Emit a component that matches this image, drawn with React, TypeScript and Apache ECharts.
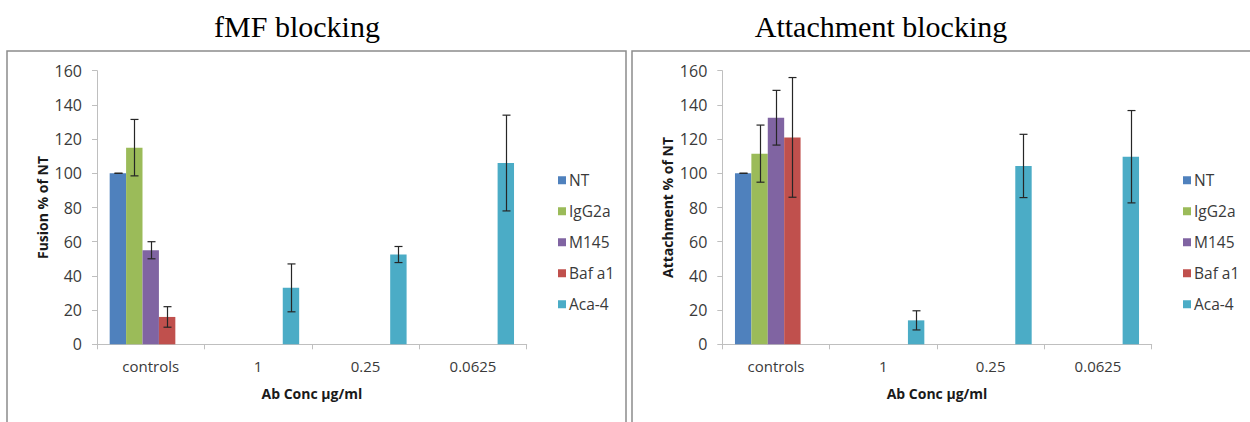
import React, { useEffect, useRef } from "react";
import * as echarts from "echarts";

const categories = ["controls", "1", "0.25", "0.0625"];
const seriesNames = ["NT", "IgG2a", "M145", "Baf a1", "Aca-4"];
const colors = ["#4f81bd", "#9bbb59", "#8064a2", "#c0504d", "#4bacc6"];

// fMF blocking (Fusion % of NT)
const fusionNT = [100, null, null, null];
const fusionIgG2a = [115, null, null, null];
const fusionM145 = [55, null, null, null];
const fusionBaf = [16, null, null, null];
const fusionAca4 = [null, 33, 52.5, 106];
const fusionErrNT = [0, null, null, null];
const fusionErrIgG2a = [16.5, null, null, null];
const fusionErrM145 = [5, null, null, null];
const fusionErrBaf = [6, null, null, null];
const fusionErrAca4 = [null, 14, 4.7, 28];

// Attachment blocking (Attachment % of NT)
const attachNT = [100, null, null, null];
const attachIgG2a = [111.5, null, null, null];
const attachM145 = [132.5, null, null, null];
const attachBaf = [121, null, null, null];
const attachAca4 = [null, 14, 104.3, 109.7];
const attachErrNT = [0, null, null, null];
const attachErrIgG2a = [16.7, null, null, null];
const attachErrM145 = [16, null, null, null];
const attachErrBaf = [35, null, null, null];
const attachErrAca4 = [null, 5.6, 18.5, 27];

const yTicks = { min: 0, max: 160, interval: 20 };

const CAT_GAP = 0.236;
const AXIS_COLOR = "#bfbfbf";
const LABEL_FONT = "'Open Sans', sans-serif";

function buildErrData(values: (number | null)[][], errs: (number | null)[][]) {
  const out: number[][] = [];
  values.forEach((vals, si) => {
    vals.forEach((v, ci) => {
      const e = errs[si][ci];
      if (v !== null && e !== null) out.push([ci, si, v, e]);
    });
  });
  return out;
}

function errRender(params: any, api: any) {
  const cat = api.value(0);
  const idx = api.value(1);
  const v = api.value(2);
  const e = api.value(3);
  const c = api.coord([cat, v]);
  const catW = api.size([1, 0])[0];
  const band = catW * (1 - CAT_GAP);
  const bw = band / seriesNames.length;
  const x = Math.round(c[0] - band / 2 + (idx + 0.5) * bw) + 0.5;
  const top = api.coord([cat, v + e])[1];
  const bot = api.coord([cat, v - e])[1];
  const cap = 4;
  const style = { stroke: "#262626", lineWidth: 1.2 };
  return {
    type: "group",
    children: [
      { type: "line", shape: { x1: x, y1: top, x2: x, y2: bot }, style },
      { type: "line", shape: { x1: x - cap, y1: top, x2: x + cap, y2: top }, style },
      { type: "line", shape: { x1: x - cap, y1: bot, x2: x + cap, y2: bot }, style },
    ],
  };
}

export default function App() {
  const ref = useRef<HTMLDivElement>(null);
  useEffect(() => {
    if (!ref.current) return;
    const chart = echarts.init(ref.current, null, { renderer: "svg" });

    const panels = [
      {
        values: [fusionNT, fusionIgG2a, fusionM145, fusionBaf, fusionAca4],
        errs: [fusionErrNT, fusionErrIgG2a, fusionErrM145, fusionErrBaf, fusionErrAca4],
        yName: "Fusion % of NT",
      },
      {
        values: [attachNT, attachIgG2a, attachM145, attachBaf, attachAca4],
        errs: [attachErrNT, attachErrIgG2a, attachErrM145, attachErrBaf, attachErrAca4],
        yName: "Attachment % of NT",
      },
    ];

    const grids = [
      { left: 97, right: 1250 - 526.7, top: 70.7, bottom: 422 - 344.3 },
      { left: 722.3, right: 1250 - 1151.7, top: 70.7, bottom: 422 - 344.3 },
    ];

    const xAxes = panels.map((p, i) => ({
      type: "category",
      gridIndex: i,
      data: categories,
      axisLine: { lineStyle: { color: AXIS_COLOR, width: 1 } },
      axisTick: { show: true, length: 5, alignWithLabel: false, lineStyle: { color: AXIS_COLOR } },
      axisLabel: { color: "#3a3a3a", fontSize: 15, fontFamily: LABEL_FONT, margin: 14 },
      name: "Ab Conc µg/ml",
      nameLocation: "middle",
      nameGap: 42,
      nameTextStyle: { color: "#1a1a1a", fontSize: 14, fontWeight: "bold", fontFamily: LABEL_FONT },
    }));

    const yAxes = panels.map((p, i) => ({
      type: "value",
      gridIndex: i,
      min: yTicks.min,
      max: yTicks.max,
      interval: yTicks.interval,
      splitLine: { show: false },
      axisLine: { show: true, lineStyle: { color: AXIS_COLOR, width: 1 } },
      axisTick: { show: true, length: 5, lineStyle: { color: AXIS_COLOR } },
      axisLabel: { color: "#3a3a3a", fontSize: 16, fontFamily: LABEL_FONT, margin: 15 },
      name: p.yName,
      nameLocation: "middle",
      nameGap: 48,
      nameRotate: 90,
      nameTextStyle: { color: "#1a1a1a", fontSize: 14, fontWeight: "bold", fontFamily: LABEL_FONT },
    }));

    const series: any[] = [];
    panels.forEach((p, pi) => {
      p.values.forEach((vals, si) => {
        series.push({
          type: "bar",
          name: seriesNames[si],
          xAxisIndex: pi,
          yAxisIndex: pi,
          data: vals.map((v) => (v === null ? "-" : v)),
          barGap: "0%",
          barCategoryGap: CAT_GAP * 100 + "%",
          itemStyle: { color: colors[si] },
        });
      });
      series.push({
        type: "custom",
        name: "err" + pi,
        xAxisIndex: pi,
        yAxisIndex: pi,
        data: buildErrData(p.values, p.errs),
        encode: { x: 0, y: 2 },
        renderItem: errRender,
        z: 10,
        silent: true,
      });
    });

    const legendBase = {
      orient: "vertical",
      top: 167,
      icon: "rect",
      itemWidth: 8,
      itemHeight: 8,
      itemGap: 14.5,
      textStyle: { color: "#3a3a3a", fontSize: 15.5, fontFamily: LABEL_FONT, lineHeight: 16.5, padding: [0, 0, 0, -2] },
      data: seriesNames,
    };

    chart.setOption({
      animation: false,
      backgroundColor: "#ffffff",
      grid: grids,
      xAxis: xAxes,
      yAxis: yAxes,
      legend: [
        { ...legendBase, left: 553 },
        { ...legendBase, left: 1178 },
      ],
      series,
      graphic: [
        {
          type: "rect",
          shape: { x: 7, y: 51, width: 619, height: 420 },
          style: { fill: "none", stroke: "#8c8c8c", lineWidth: 1.5 },
          silent: true,
        },
        {
          type: "rect",
          shape: { x: 632, y: 51, width: 700, height: 420 },
          style: { fill: "none", stroke: "#8c8c8c", lineWidth: 1.5 },
          silent: true,
        },
        {
          type: "text",
          x: 297,
          y: 26,
          style: {
            text: "fMF blocking",
            fontFamily: "'Liberation Serif', serif",
            fontSize: 30,
            fill: "#000",
            align: "center",
            verticalAlign: "middle",
          },
        },
        {
          type: "text",
          x: 881,
          y: 26,
          style: {
            text: "Attachment blocking",
            fontFamily: "'Liberation Serif', serif",
            fontSize: 30,
            fill: "#000",
            align: "center",
            verticalAlign: "middle",
          },
        },
      ],
    });

    return () => chart.dispose();
  }, []);

  return (
    <div
      ref={ref}
      style={{ position: "fixed", left: 0, top: 0, width: 1250, height: 422, background: "#fff" }}
    />
  );
}
